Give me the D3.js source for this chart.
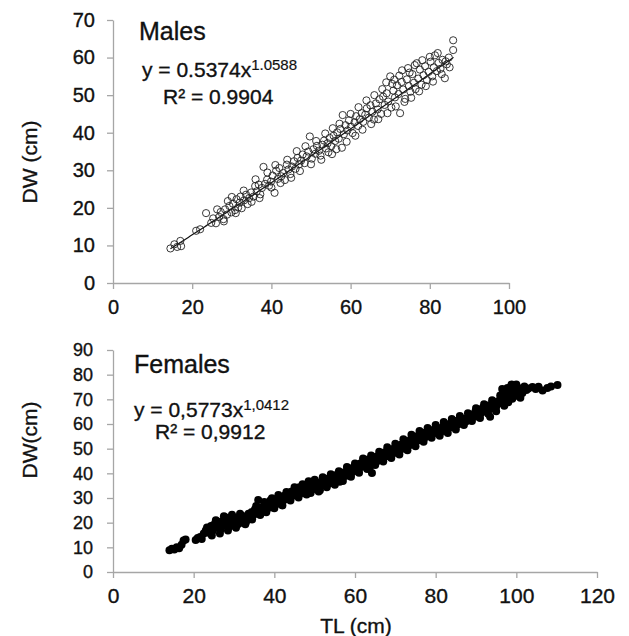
<!DOCTYPE html>
<html>
<head>
<meta charset="utf-8">
<script src="https://cdn.jsdelivr.net/npm/d3@7"></script>
<style>
  body { margin: 0; background: #fff; }
  svg text { font-family: "Liberation Sans", Arial, sans-serif; fill: #111; stroke: #111; stroke-width: 0.35px; }
</style>
</head>
<body>
<svg id="chart" width="629" height="636"></svg>
<script>
// Males: [TL (cm), DW (cm)]
const malePoints = [
  [14.5, 9.2], [15.5, 10.3], [16.2, 9.6], [17.0, 11.2], [17.2, 9.8], [21.0, 13.9], [22.0, 14.3],
  [23.5, 18.6], [24.8, 16.0], [25.3, 17.2], [26.0, 15.9], [26.8, 17.6], [27.2, 18.9], [27.9, 17.0],
  [28.3, 19.6], [28.8, 18.2], [29.4, 20.5], [29.9, 18.8], [30.3, 21.1], [30.8, 19.4], [31.2, 22.3],
  [31.6, 20.1], [32.0, 21.4], [32.5, 19.9], [33.1, 22.0], [33.6, 23.5], [34.0, 21.0], [34.4, 22.6],
  [34.9, 24.1], [35.5, 23.0], [35.9, 25.8], [36.3, 24.4], [36.8, 26.2], [37.2, 23.6], [37.6, 25.3],
  [38.0, 30.9], [38.4, 26.4], [38.9, 27.5], [39.4, 25.9], [39.9, 27.0], [40.3, 28.6], [40.8, 24.0],
  [41.2, 29.9], [41.6, 27.7], [42.0, 30.6], [42.5, 28.4], [43.0, 29.3], [43.4, 27.4], [43.9, 31.5],
  [44.3, 30.2], [44.8, 29.0], [45.2, 31.0], [45.7, 32.4], [46.1, 30.4], [46.6, 33.3], [47.0, 31.6],
  [47.5, 32.6], [47.9, 34.2], [48.4, 31.9], [48.9, 33.7], [49.3, 35.0], [49.7, 39.0], [50.2, 33.1],
  [50.6, 35.6], [51.1, 34.4], [51.5, 36.5], [52.0, 35.2], [52.4, 33.9], [52.9, 36.8], [53.3, 37.9],
  [53.8, 35.8], [54.2, 37.2], [54.7, 38.6], [55.1, 36.4], [55.3, 34.3], [55.7, 39.2], [56.1, 37.8],
  [56.6, 40.1], [57.0, 38.4], [57.4, 41.0], [57.8, 36.0], [58.0, 44.7], [58.3, 39.6], [58.7, 42.0],
  [59.2, 40.6], [59.6, 43.3], [60.1, 41.6], [60.5, 39.9], [61.0, 42.8], [61.4, 44.4], [61.9, 41.8],
  [62.3, 43.6], [62.8, 45.2], [63.2, 42.9], [63.7, 44.8], [64.1, 46.5], [64.6, 44.0], [65.0, 47.3],
  [65.5, 45.6], [65.9, 43.5], [66.4, 47.8], [66.8, 46.2], [67.3, 48.9], [67.7, 45.0], [68.2, 49.6],
  [68.6, 47.4], [69.0, 53.4], [69.1, 50.5], [69.5, 48.3], [70.0, 55.0], [70.3, 46.7], [70.8, 51.2],
  [71.0, 54.1], [71.2, 49.4], [71.7, 52.6], [72.1, 50.3], [72.5, 45.2], [72.9, 53.5], [73.0, 56.6],
  [73.3, 51.5], [73.8, 49.0], [74.2, 54.2], [74.5, 57.2], [74.7, 52.4], [75.1, 50.9], [75.6, 55.6],
  [76.0, 53.3], [76.4, 51.6], [76.7, 58.5], [77.1, 54.4], [77.5, 56.8], [77.9, 52.8], [78.4, 55.3],
  [78.8, 57.7], [79.3, 54.0], [79.7, 56.2], [80.2, 58.9], [80.6, 55.0], [81.0, 57.4], [81.3, 60.6],
  [81.8, 56.4], [82.2, 58.6], [82.7, 57.0], [83.2, 59.4], [83.8, 54.5], [84.3, 58.2], [84.8, 60.0],
  [85.9, 62.0], [85.9, 64.6],
  [26.3, 19.6], [28.0, 16.4], [29.0, 21.8], [30.0, 22.9], [31.0, 18.6], [32.2, 23.0], [33.0, 24.6],
  [35.0, 21.6], [36.0, 27.6], [37.0, 22.6], [39.0, 29.4], [40.0, 25.4], [41.0, 31.4], [42.3, 26.6],
  [44.0, 32.8], [45.0, 28.0], [46.4, 35.1], [47.2, 29.8], [48.6, 36.4], [50.0, 31.6], [51.3, 37.8],
  [52.6, 32.8], [53.6, 39.8], [54.4, 34.8], [55.5, 41.2], [56.4, 35.6], [57.2, 42.4], [59.0, 37.6],
  [60.0, 45.0], [61.2, 39.2], [62.0, 46.8], [63.0, 40.8], [64.0, 48.6], [65.2, 42.3], [66.0, 50.0],
  [67.0, 43.6], [68.0, 51.6], [69.3, 45.2], [70.5, 53.0], [71.4, 47.0], [72.3, 55.2], [73.6, 48.2],
  [74.9, 56.0], [75.3, 49.3], [76.2, 58.0], [77.3, 51.0], [78.1, 59.3], [79.0, 52.4], [80.0, 60.2],
  [80.8, 53.6], [82.0, 61.2], [83.0, 55.6], [84.0, 59.0], [85.0, 57.4]
];

// Females: [TL (cm), DW (cm)]
const femalePoints = [
  [14.0, 8.8], [14.6, 9.4], [15.2, 9.1], [15.8, 10.0], [16.4, 9.6], [17.0, 11.0], [17.5, 12.8],
  [18.0, 13.2], [20.5, 13.0], [21.0, 13.8], [21.6, 14.2], [22.0, 13.4], [22.5, 15.6], [23.0, 16.8],
  [23.3, 18.0], [23.7, 15.9], [24.0, 17.3], [24.3, 18.6], [24.6, 16.4], [25.0, 19.2], [25.3, 17.8],
  [25.6, 20.0], [26.0, 18.4], [26.3, 19.7], [26.7, 17.2], [27.0, 20.6], [27.3, 18.9], [27.7, 21.3],
  [28.0, 19.5], [28.4, 22.0], [28.7, 20.2], [29.0, 18.5], [29.4, 21.4], [29.8, 19.8], [30.1, 22.1],
  [30.5, 20.6], [30.9, 19.3], [31.3, 21.8], [31.7, 20.0], [32.0, 22.8], [32.4, 21.2], [32.8, 19.4],
  [33.2, 22.4], [33.6, 23.6], [34.0, 22.0], [34.4, 24.3], [34.8, 23.0], [35.2, 25.4], [35.6, 23.8],
  [36.0, 29.2], [36.3, 24.9], [36.7, 26.1], [37.1, 24.6], [37.5, 26.8], [37.9, 25.5], [38.3, 27.3],
  [38.7, 26.0], [39.1, 28.0], [39.4, 29.9], [39.8, 27.1], [40.2, 28.6], [40.6, 27.6], [41.0, 29.3],
  [41.4, 28.1], [41.8, 30.4], [42.2, 28.9], [42.6, 31.0], [43.0, 29.6], [43.4, 31.8], [43.8, 30.2],
  [44.2, 32.5], [44.6, 30.9], [45.0, 32.0], [45.4, 33.3], [45.8, 31.4], [46.2, 34.4], [46.6, 32.6],
  [47.0, 33.8], [47.4, 31.9], [47.8, 34.9], [48.2, 33.2], [48.6, 35.3], [49.0, 32.0], [49.3, 34.2],
  [49.7, 35.8], [50.1, 33.6], [50.5, 36.4], [50.9, 34.8], [51.3, 33.1], [51.7, 35.9], [52.1, 37.0],
  [52.5, 35.2], [52.9, 36.3], [53.3, 37.8], [53.7, 36.0], [54.1, 38.6], [54.6, 38.4], [55.0, 37.1],
  [55.4, 39.3], [55.8, 37.9], [56.2, 36.6], [56.6, 39.8], [57.0, 38.5], [57.4, 40.4], [57.8, 39.0],
  [58.2, 41.2], [58.6, 39.7], [59.0, 42.0], [59.4, 40.5], [59.8, 42.7], [60.2, 41.3], [60.6, 43.4],
  [61.0, 42.0], [61.3, 44.0], [61.7, 42.7], [62.1, 44.8], [62.5, 43.4], [62.9, 45.5], [63.3, 44.1],
  [63.7, 42.6], [64.2, 40.1], [64.6, 45.2], [65.0, 46.6], [65.4, 44.8], [65.8, 47.1], [66.2, 45.6],
  [66.6, 47.8], [67.0, 46.2], [67.4, 48.5], [67.8, 46.9], [68.2, 48.9], [68.6, 47.4], [69.0, 49.6],
  [69.4, 48.0], [69.8, 50.3], [70.2, 48.7], [70.6, 51.0], [71.0, 49.4], [71.4, 51.6], [71.8, 50.0],
  [72.2, 52.3], [72.6, 50.8], [73.0, 53.0], [73.4, 51.3], [73.8, 53.6], [74.2, 52.0], [74.6, 54.2],
  [75.0, 52.6], [75.4, 55.0], [75.8, 53.4], [76.2, 55.8], [76.6, 54.0], [77.0, 56.4], [77.4, 54.6],
  [77.8, 56.9], [78.2, 55.3], [78.6, 57.4], [79.0, 55.8], [79.4, 57.6], [79.8, 56.4], [80.2, 57.9],
  [80.6, 56.7], [81.0, 58.3], [81.4, 57.0], [81.8, 58.8], [82.2, 57.5], [82.6, 59.4], [83.0, 58.1],
  [83.4, 60.0], [83.8, 58.7], [84.2, 60.5], [84.6, 59.3], [85.0, 61.2], [85.5, 59.8], [86.0, 61.6],
  [86.5, 60.4], [87.0, 62.1], [87.5, 61.0], [88.0, 62.6], [88.5, 61.5], [89.0, 63.2], [89.5, 64.0],
  [89.8, 64.9], [90.3, 63.0], [90.8, 65.8], [91.2, 64.4], [91.7, 66.6], [92.2, 65.2], [92.8, 65.6],
  [93.3, 67.6], [93.5, 62.9], [94.0, 66.3], [94.5, 68.4], [95.0, 67.0], [95.5, 69.2], [96.0, 68.5],
  [96.4, 70.6], [96.8, 72.4], [97.2, 69.8], [97.6, 71.6], [97.8, 74.6], [98.2, 73.2], [98.6, 70.4],
  [99.0, 74.8], [99.4, 72.0], [99.8, 75.3], [100.2, 73.5], [100.6, 71.3], [101.0, 74.4], [101.5, 72.6],
  [102.0, 75.2], [102.5, 73.8], [103.0, 74.4], [104.0, 75.0], [104.8, 74.2], [105.5, 75.1],
  [106.5, 73.6], [107.7, 74.6], [108.6, 75.2], [110.2, 75.8],
  [24.5, 14.8], [25.5, 21.0], [26.5, 15.6], [27.5, 22.6], [28.5, 16.8], [29.5, 23.2], [30.5, 17.9],
  [31.5, 23.6], [33.0, 20.4], [34.5, 21.3], [35.5, 26.8], [36.5, 23.1], [37.5, 28.4], [38.0, 24.2],
  [39.0, 29.0], [40.0, 25.8], [41.0, 31.2], [42.0, 27.0], [43.0, 32.4], [44.0, 29.0], [45.0, 34.4],
  [46.0, 30.2], [47.0, 35.6], [48.0, 31.4], [48.5, 36.8], [50.0, 37.4], [51.0, 32.6], [52.0, 38.4],
  [53.0, 34.4], [54.0, 39.6], [55.0, 35.4], [56.0, 40.8], [57.0, 36.9], [58.0, 42.6], [59.0, 38.6],
  [60.0, 44.0], [61.0, 40.2], [62.0, 46.0], [63.0, 41.8], [64.0, 47.2], [65.0, 43.4], [66.0, 48.8],
  [67.0, 44.8], [68.0, 50.6], [69.0, 46.2], [70.0, 52.0], [71.0, 47.6], [72.0, 53.8], [73.0, 49.4],
  [74.0, 55.6], [75.0, 51.0], [76.0, 57.2], [77.0, 52.8], [78.0, 58.4], [79.0, 54.4], [80.0, 59.6],
  [81.0, 55.2], [82.0, 60.8], [83.0, 56.4], [84.0, 62.0], [85.0, 57.8], [86.0, 63.2], [87.0, 59.6],
  [88.0, 64.4], [89.0, 61.2], [90.0, 66.4], [91.0, 62.4], [92.0, 68.0], [93.0, 64.2], [94.0, 69.6],
  [95.0, 65.2], [96.0, 71.6], [96.5, 74.2], [97.0, 67.4], [98.0, 68.8], [98.8, 76.0], [99.0, 70.2],
  [100.0, 76.0], [101.0, 70.6]
];

// tick values
const maleXTicks = [0, 20, 40, 60, 80, 100];
const maleYTicks = [0, 10, 20, 30, 40, 50, 60, 70];
const femaleXTicks = [0, 20, 40, 60, 80, 100, 120];
const femaleYTicks = [0, 10, 20, 30, 40, 50, 60, 70, 80, 90];

// power fit reported for males: DW = a * TL^b
const maleFit = { a: 0.5374, b: 1.0588, from: 14.5, to: 86 };

const svg = d3.select('#chart');
const axisGrey = '#a6a6a6';

function drawAxes(x, y, xTicks, yTicks, opt) {
  const gx = svg.append('g')
    .attr('transform', `translate(0,${y(0)})`)
    .call(d3.axisBottom(x).tickValues(xTicks).tickSize(6).tickSizeOuter(0).tickPadding(opt.xPad));
  const gy = svg.append('g')
    .attr('transform', `translate(${x(0)},0)`)
    .call(d3.axisLeft(y).tickValues(yTicks).tickSize(6).tickSizeOuter(0).tickPadding(opt.yPad));

  [gx, gy].forEach(g => {
    g.selectAll('path, line').attr('stroke', axisGrey).attr('stroke-width', 1.3);
  });
  gx.selectAll('text').style('font-size', opt.xFont + 'px').attr('fill', '#111');
  gy.selectAll('text').style('font-size', opt.yFont + 'px').attr('fill', '#111');
}

function addEquation(xPos, y1, y2, base, sup, r2) {
  const t = svg.append('text')
    .attr('x', xPos).attr('y', y1)
    .style('font-size', '21px');
  t.append('tspan').text(base);
  t.append('tspan').attr('dy', -7).style('font-size', '15px').style('stroke-width', '0.2px').text(sup);

  svg.append('text')
    .attr('x', xPos + 21).attr('y', y2)
    .style('font-size', '21px')
    .text(r2);
}

// ---- Males (upper panel) ----
const xM = d3.scaleLinear().domain([0, 100]).range([113, 509]);
const yM = d3.scaleLinear().domain([0, 70]).range([283, 20]);

drawAxes(xM, yM, maleXTicks, maleYTicks, { xPad: 11, yPad: 12, xFont: 20, yFont: 20 });

const fitLine = d3.line()
  .x(d => xM(d))
  .y(d => yM(maleFit.a * Math.pow(d, maleFit.b)));

svg.append('path')
  .datum(d3.range(maleFit.from, maleFit.to + 0.01, 0.5))
  .attr('d', fitLine)
  .attr('fill', 'none')
  .attr('stroke', '#111')
  .attr('stroke-width', 1.2);

svg.append('g')
  .selectAll('circle')
  .data(malePoints)
  .enter()
  .append('circle')
  .attr('cx', d => xM(d[0]))
  .attr('cy', d => yM(d[1]))
  .attr('r', 3.6)
  .attr('fill', 'none')
  .attr('stroke', '#222')
  .attr('stroke-width', 0.9);

svg.append('text')
  .attr('x', 139).attr('y', 40)
  .style('font-size', '25px')
  .text('Males');

addEquation(142, 77, 104, 'y = 0.5374x', '1.0588', 'R² = 0.9904');

svg.append('text')
  .attr('transform', 'translate(37,162) rotate(-90)')
  .attr('text-anchor', 'middle')
  .style('font-size', '21px')
  .text('DW (cm)');

// ---- Females (lower panel) ----
const xF = d3.scaleLinear().domain([0, 120]).range([113, 597]);
const yF = d3.scaleLinear().domain([0, 90]).range([572, 350]);

drawAxes(xF, yF, femaleXTicks, femaleYTicks, { xPad: 10, yPad: 14, xFont: 21, yFont: 18 });

svg.append('g')
  .selectAll('circle')
  .data(femalePoints)
  .enter()
  .append('circle')
  .attr('cx', d => xF(d[0]))
  .attr('cy', d => yF(d[1]))
  .attr('r', 4)
  .attr('fill', '#000');

svg.append('text')
  .attr('x', 134).attr('y', 373)
  .style('font-size', '25px')
  .text('Females');

addEquation(134, 417, 439, 'y = 0,5773x', '1,0412', 'R² = 0,9912');

svg.append('text')
  .attr('transform', 'translate(37,440) rotate(-90)')
  .attr('text-anchor', 'middle')
  .style('font-size', '21px')
  .text('DW(cm)');

svg.append('text')
  .attr('x', 356).attr('y', 633)
  .attr('text-anchor', 'middle')
  .style('font-size', '21px')
  .text('TL (cm)');
</script>
</body>
</html>
